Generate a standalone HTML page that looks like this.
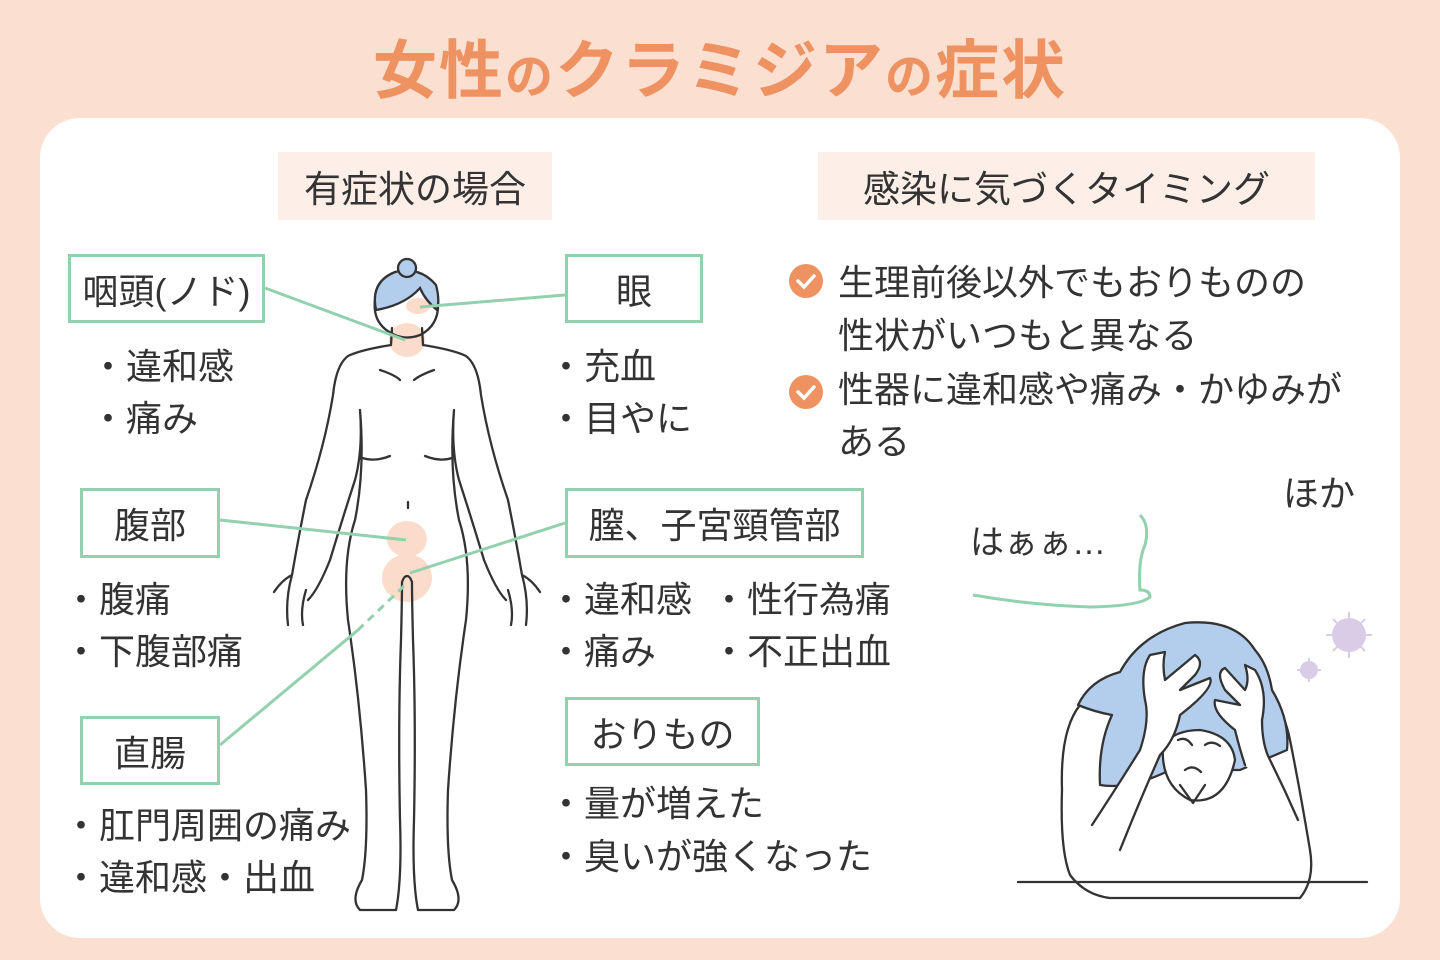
<!DOCTYPE html>
<html><head><meta charset="utf-8"><style>
body{margin:0;width:1440px;height:960px;background:#fbe0d2;position:relative;overflow:hidden;font-family:"Liberation Sans","Noto Sans CJK JP",sans-serif;color:#333}
.card{position:absolute;left:40px;top:118px;width:1360px;height:820px;background:#fff;border-radius:40px}
.t{position:absolute;white-space:nowrap;font-size:36px;line-height:1}
.box{position:absolute;border:3px solid #92d1ad;box-sizing:border-box;display:flex;align-items:center;justify-content:center;font-size:36px;background:#fff}
.hdr{position:absolute;background:#fdeee7;display:flex;align-items:center;justify-content:center;font-size:37px}
.title{position:absolute;left:0;width:1440px;top:20px;text-align:center;font-size:64px;font-weight:bold;color:#ef9262;letter-spacing:2px}
.title small{font-size:48px}
</style></head><body>
<div class="title">女性<small>の</small>クラミジア<small>の</small>症状</div>
<div class="card"></div>
<div class="hdr" style="left:278px;top:152px;width:274px;height:68px">有症状の場合</div>
<div class="hdr" style="left:818px;top:152px;width:497px;height:68px">感染に気づくタイミング</div>

<svg style="position:absolute;left:0;top:0" width="1440" height="960">
<g fill="#fbd9c6" opacity=".9">
<ellipse cx="418" cy="306" rx="12" ry="8"/>
<ellipse cx="407" cy="340" rx="18" ry="17"/>
<ellipse cx="407" cy="539" rx="20" ry="18"/>
<ellipse cx="407" cy="578" rx="25" ry="24"/>
</g>
<g fill="none" stroke="#333" stroke-width="2.3" stroke-linecap="round" stroke-linejoin="round">
<path d="M375 300 Q372 325 395 335 Q407 340 420 335 Q440 325 438 300"/>
<path id="h" d="M392 328 L391 345 Q360 350 348 356 Q336 365 333 395 Q325 445 306 500 Q298 540 292 575 Q282 580 274 592 M292 575 Q285 600 288 625 M306 590 Q300 610 303 625 M360 410 Q363 450 355 480 Q342 520 330 560 Q318 590 308 600 M360 410 Q365 470 355 520 Q342 560 348 620 Q360 700 366 790 Q368 850 362 880 Q350 900 360 910 L396 910 Q402 880 400 820 Q398 720 401 640 Q402 600 402 582 Q404 576 407 576"/>
<use href="#h" transform="translate(814 0) scale(-1 1)"/>
<path d="M362 458 Q375 462 390 456 M452 458 Q440 462 425 456 M380 370 Q395 375 400 380 M434 370 Q420 375 414 380 M408 502 L408 508"/>
</g>
<path d="M376 310 Q370 282 395 272 Q420 266 436 285 Q440 300 437 310 Q425 300 420 288 Q405 305 376 310Z" fill="#b3cdec" stroke="#333" stroke-width="2.3"/>
<circle cx="407" cy="268" r="9" fill="#b3cdec" stroke="#333" stroke-width="2.3"/>
<g stroke="#92d1ad" stroke-width="3" fill="none">
<line x1="265" y1="288" x2="405" y2="340"/>
<line x1="565" y1="295" x2="420" y2="307"/>
<line x1="220" y1="520" x2="406" y2="540"/>
<line x1="565" y1="523" x2="410" y2="573"/>
<line x1="404" y1="586" x2="358" y2="630" stroke-dasharray="8 6"/>
<line x1="358" y1="630" x2="220" y2="745"/>
<path d="M973 595 Q1030 605 1090 607 Q1140 606 1150 597 Q1150 590 1140 590 Q1138 560 1145 545 Q1150 525 1140 515"/>
</g>
<g fill="#ef9262"><circle cx="806" cy="281" r="17"/><circle cx="806" cy="392" r="17"/></g>
<g stroke="#fff" stroke-width="3.5" fill="none" stroke-linecap="round"><path d="M798 281 L804 287 L814 276"/><path d="M798 392 L804 398 L814 387"/></g>
<g fill="#d8cce6"><circle cx="1349" cy="635" r="17"/><circle cx="1309" cy="670" r="9"/></g>
<g stroke="#d8cce6" stroke-width="2"><path d="M1349 612V658M1326 635H1372M1333 619L1365 651M1365 619L1333 651M1309 658V682M1297 670H1321"/></g>
<g stroke="#333" stroke-width="2.3" stroke-linejoin="round" stroke-linecap="round">
<!-- back/arms -->
<path d="M1080 705 Q1060 730 1062 790 Q1060 850 1070 875 Q1085 895 1110 898 L1300 898 Q1315 880 1310 850 Q1300 790 1290 740 Q1285 715 1275 705 Z" fill="#fff"/>
<!-- hair -->
<path d="M1100 785 Q1098 745 1112 715 Q1095 712 1078 705 Q1090 680 1120 672 Q1140 635 1185 623 Q1235 618 1255 650 Q1268 665 1272 690 Q1290 720 1287 750 L1240 770 L1170 770 Q1130 790 1100 785Z" fill="#b3cdec"/>
<!-- face -->
<path d="M1163 745 Q1160 785 1190 800 Q1225 805 1235 760 Q1232 735 1200 730 Q1175 730 1163 745Z" fill="#fff"/>
<path d="M1180 785 L1193 803 L1205 785" fill="none"/>
<path d="M1178 740 Q1186 736 1192 745 M1205 745 Q1212 740 1220 746 M1185 770 Q1193 764 1201 772" fill="none"/>
<!-- left hand/arm -->
<path d="M1092 825 Q1115 790 1140 750 Q1150 720 1145 700 Q1140 670 1150 655 L1165 652 Q1162 665 1165 680 L1195 655 Q1205 662 1195 675 L1180 690 L1210 678 Q1215 688 1180 715 Q1175 740 1160 755 Q1140 800 1120 850" fill="#fff"/>
<!-- right hand/arm -->
<path d="M1298 820 Q1285 790 1270 760 Q1262 745 1262 720 Q1268 690 1255 670 L1245 665 Q1250 680 1245 690 L1225 668 Q1215 672 1225 690 L1240 705 L1215 700 Q1212 712 1235 730 Q1240 750 1245 765" fill="#fff"/>
<path d="M1018 882 H1367" fill="none"/>
</g>
</svg>

<div class="box" style="left:68px;top:254px;width:197px;height:69px">咽頭(ノド)</div>
<div class="box" style="left:565px;top:254px;width:138px;height:69px">眼</div>
<div class="box" style="left:80px;top:488px;width:140px;height:70px">腹部</div>
<div class="box" style="left:565px;top:488px;width:299px;height:70px">膣、子宮頸管部</div>
<div class="box" style="left:80px;top:716px;width:140px;height:69px">直腸</div>
<div class="box" style="left:565px;top:697px;width:195px;height:69px">おりもの</div>

<div class="t" style="left:90px;top:349px">・違和感</div>
<div class="t" style="left:90px;top:401px">・痛み</div>
<div class="t" style="left:548px;top:349px">・充血</div>
<div class="t" style="left:548px;top:401px">・目やに</div>
<div class="t" style="left:63px;top:582px">・腹痛</div>
<div class="t" style="left:63px;top:634px">・下腹部痛</div>
<div class="t" style="left:548px;top:582px">・違和感</div>
<div class="t" style="left:711px;top:582px">・性行為痛</div>
<div class="t" style="left:548px;top:634px">・痛み</div>
<div class="t" style="left:711px;top:634px">・不正出血</div>
<div class="t" style="left:63px;top:808px">・肛門周囲の痛み</div>
<div class="t" style="left:63px;top:860px">・違和感・出血</div>
<div class="t" style="left:548px;top:786px">・量が増えた</div>
<div class="t" style="left:548px;top:839px">・臭いが強くなった</div>

<div class="t" style="left:838px;top:265px">生理前後以外でもおりものの</div>
<div class="t" style="left:838px;top:318px">性状がいつもと異なる</div>
<div class="t" style="left:838px;top:372px">性器に違和感や痛み・かゆみが</div>
<div class="t" style="left:838px;top:424px">ある</div>
<div class="t" style="left:1283px;top:476px">ほか</div>
<div class="t" style="left:970px;top:526px;font-size:34px">はぁぁ…</div>
</body></html>
